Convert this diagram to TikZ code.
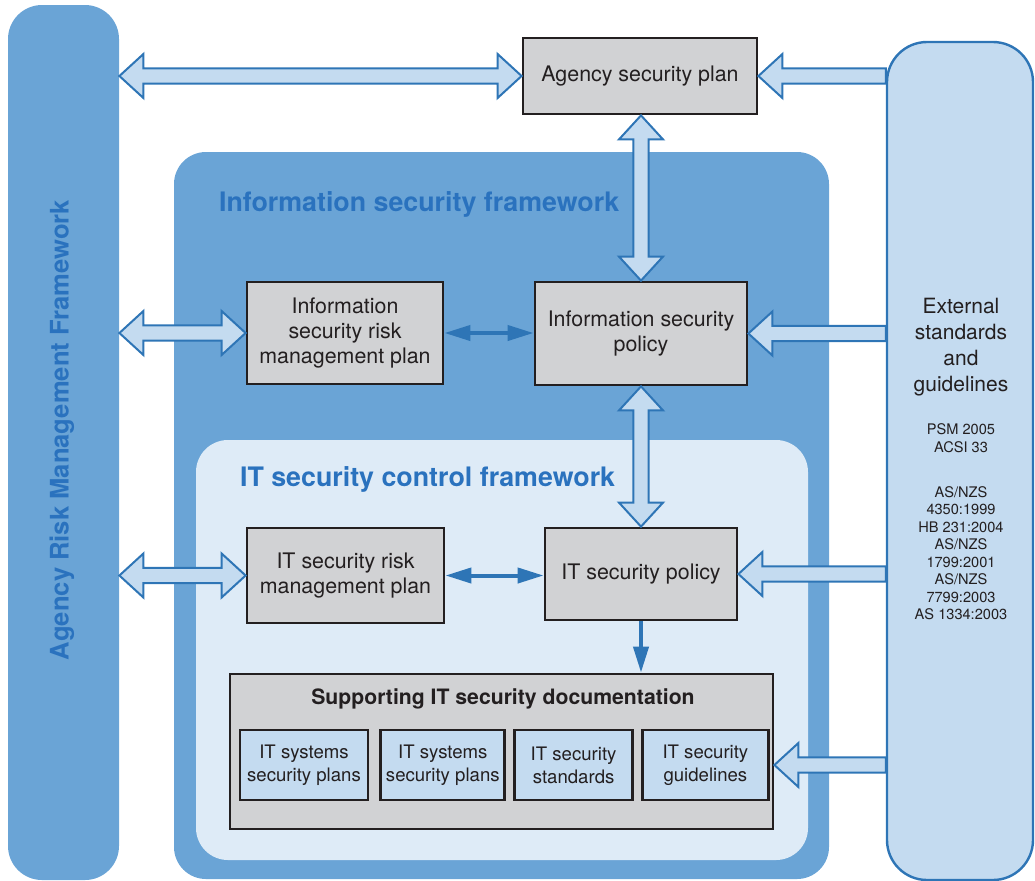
\documentclass[tikz,border=0pt]{standalone}
\usepackage{fontspec}
\setmainfont{TeX Gyre Heros}
\usetikzlibrary{positioning, arrows.meta, calc}

\definecolor{midblue}{HTML}{6AA4D6}
\definecolor{paleblue}{HTML}{DEEBF7}
\definecolor{lightblue}{HTML}{C4DBF0}
\definecolor{lineblue}{HTML}{2E75B6}
\definecolor{titleblue}{HTML}{2A72BE}
\definecolor{boxgray}{HTML}{D1D2D4}
\definecolor{ink}{HTML}{231F20}

\newcommand{\headlen}{12pt}
\newcommand{\headwid}{11pt}
\newcommand{\shaftwid}{3.8pt}

% hollow block arrow from #2 to #3 (#1=2: heads at both ends, #1=1: head at #3 only)
\newcommand{\blockarrow}[3][2]{%
  \path let \p1=(#2), \p2=(#3) in \pgfextra{%
    \pgfmathsetmacro\arrtmp{veclen(\x2-\x1,\y2-\y1)}\xdef\arrlen{\arrtmp pt}%
    \pgfmathsetmacro\arrtmp{atan2(\y2-\y1,\x2-\x1)}\xdef\arrang{\arrtmp}%
    \xdef\arrx{\x1}\xdef\arry{\y1}};
  \begin{scope}[shift={(\arrx,\arry)}, rotate=\arrang]
    \ifnum#1=2
      \filldraw[bigarrow] (0pt,0pt) -- (\headlen,\headwid) -- (\headlen,\shaftwid)
        -- (\arrlen-\headlen,\shaftwid) -- (\arrlen-\headlen,\headwid) -- (\arrlen,0pt)
        -- (\arrlen-\headlen,-\headwid) -- (\arrlen-\headlen,-\shaftwid)
        -- (\headlen,-\shaftwid) -- (\headlen,-\headwid) -- cycle;
    \else
      \filldraw[bigarrow] (0pt,\shaftwid) -- (\arrlen-\headlen,\shaftwid)
        -- (\arrlen-\headlen,\headwid) -- (\arrlen,0pt) -- (\arrlen-\headlen,-\headwid)
        -- (\arrlen-\headlen,-\shaftwid) -- (0pt,-\shaftwid) -- cycle;
    \fi
  \end{scope}}

\tikzset{
  box/.style={draw=ink, line width=1.4pt, fill=boxgray, text=ink, align=center,
    inner sep=0pt, font=\fontsize{10.7}{12.5}\selectfont},
  subbox/.style={draw=ink, line width=1.4pt, fill=lightblue, text=ink, align=center,
    inner sep=0pt, minimum height=35pt, font=\fontsize{9.3}{11.5}\selectfont},
  frametitle/.style={text=titleblue, font=\bfseries\fontsize{13.4}{16}\selectfont},
  bigarrow/.style={fill=lightblue, draw=lineblue, line width=1pt, line join=miter},
  thinline/.style={draw=lineblue, line width=2pt},
  tip/.tip={Triangle[length=13pt,width=7.5pt]},
}

\begin{document}
\begin{tikzpicture}[x=0.5pt, y=-0.5pt]
\useasboundingbox (0,0) rectangle (1035,880);

% side columns
\node[fill=midblue, rounded corners=17pt, minimum width=55.5pt, minimum height=437.5pt,
  inner sep=0pt] (leftbar) at (63.5,442.5) {};
\node[rotate=90, text=titleblue, font=\bfseries\fontsize{12.8}{15}\selectfont]
  (armtitle) at (62,430) {Agency Risk Management Framework};
\node[fill=lightblue, draw=lineblue, line width=1.2pt, rounded corners=20pt,
  minimum width=73pt, minimum height=419pt, inner sep=0pt] (extcol) at (960,461) {};
\node[align=center, text=ink, font=\fontsize{10.5}{13}\selectfont] (exttext) at (961,347)
  {External\\standards\\and\\guidelines};
\node[align=center, text=ink, font=\fontsize{7.3}{8.75}\selectfont] (extlist) at (961,522)
  {PSM 2005\\ACSI 33\\[13.75pt]AS/NZS\\4350:1999\\HB 231:2004\\AS/NZS\\1799:2001\\AS/NZS\\7799:2003\\AS 1334:2003};

% framework panels
\node[fill=midblue, rounded corners=16pt, minimum width=327.5pt, minimum height=363.5pt,
  inner sep=0pt] (isf) at (501.5,515.5) {};
\node[frametitle, anchor=west] (isftitle) at (212,204) {Information security framework};
\node[fill=paleblue, rounded corners=16pt, minimum width=306pt, minimum height=210pt,
  inner sep=0pt] (itcf) at (502,650) {};
\node[frametitle, anchor=west] (itcftitle) at (233,479) {IT security control framework};

% plans and policies
\node[box, minimum width=117pt, minimum height=38pt] (agency) at (640,76) {Agency security plan};
\node[box, minimum width=98pt, minimum height=51pt] (isrmp) at (345,333)
  {Information\\security risk\\management plan};
\node[box, minimum width=106pt, minimum height=51.5pt] (ispol) at (641,333.5)
  {Information security\\policy};
\node[box, minimum width=98.5pt, minimum height=47.5pt] (itrmp) at (345.5,575.5)
  {IT security risk\\management plan};
\node[box, minimum width=96pt, minimum height=46pt] (itpol) at (641,574) {IT security policy};

% supporting documentation
\node[box, minimum width=271.5pt, minimum height=77.5pt] (supdoc) at (501.5,751.5) {};
\node[text=ink, font=\bfseries\fontsize{10.6}{12}\selectfont] (suptitle) at (503,699)
  {Supporting IT security documentation};
\node[subbox, minimum width=64pt] (sb1) at (304,765) {IT systems\\security plans};
\node[subbox, minimum width=62pt, right=5pt of sb1] (sb2) {IT systems\\security plans};
\node[subbox, minimum width=59pt, right=3.5pt of sb2] (sb3) {IT security\\standards};
\node[subbox, minimum width=63pt, right=3.5pt of sb3] (sb4) {IT security\\guidelines};

% block arrows
\blockarrow{leftbar.east |- agency.west}{agency.west}
\blockarrow[1]{extcol.west |- agency.east}{agency.east}
\blockarrow{agency.south -| ispol.north}{ispol.north}
\blockarrow{leftbar.east |- isrmp.west}{isrmp.west}
\blockarrow[1]{extcol.west |- ispol.east}{ispol.east}
\blockarrow{ispol.south}{ispol.south |- itpol.north}
\blockarrow{leftbar.east |- itrmp.west}{itrmp.west}
\blockarrow[1]{extcol.west |- itpol.east}{itpol.east}
\blockarrow[1]{extcol.west |- sb4.east}{supdoc.east |- sb4.east}

% plain arrows
\draw[thinline, tip-tip] (isrmp.east) -- (isrmp.east -| ispol.west);
\draw[thinline, tip-tip] (itrmp.east) -- (itrmp.east -| itpol.west);
\draw[thinline, -tip] (itpol.south) -- (itpol.south |- supdoc.north);
\end{tikzpicture}
\end{document}
